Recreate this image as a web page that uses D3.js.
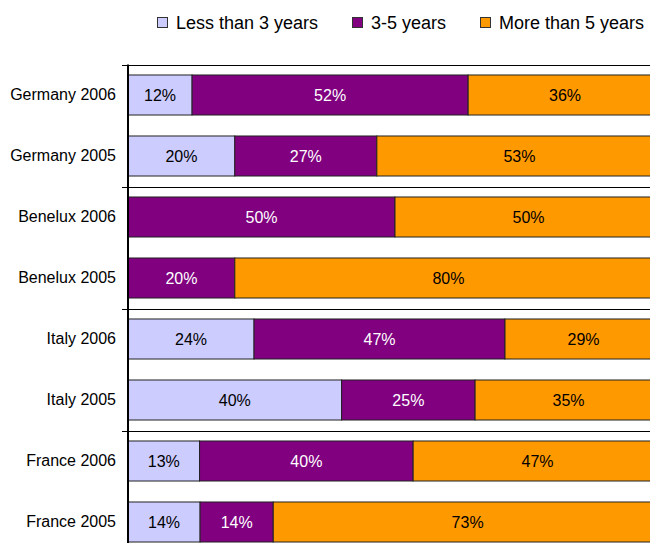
<!DOCTYPE html>
<html>
<head>
<meta charset="utf-8">
<script src="https://cdn.jsdelivr.net/npm/d3@7"></script>
<style>
  body { margin: 0; background: #fff; }
  svg { display: block; font-family: "Liberation Sans", Arial, sans-serif; }
</style>
</head>
<body>
<script>
// chart data (shares, labels are rounded)
const categories = ["Germany 2006", "Germany 2005", "Benelux 2006", "Benelux 2005",
                    "Italy 2006", "Italy 2005", "France 2006", "France 2005"]
const seriesNames = ["Less than 3 years", "3-5 years", "More than 5 years"]
const lessThan3 = [12, 20, 0, 0, 23.6, 40, 13.4, 13.5]
const from3to5 = [51.7, 26.6, 50, 20, 47, 25, 40, 13.7]
const moreThan5 = [36.3, 53.4, 50, 80, 29.4, 35, 46.6, 72.8]

const colors = ["#ccccff", "#800080", "#ff9900"]
const labelColors = ["#000", "#fff", "#000"]

const width = 650, height = 543
const axisX = 128

const svg = d3.select('body').append('svg')
    .attr('width', width)
    .attr('height', height)

// build rows for stacking
const rows = categories.map((c, i) => ({
    cat: c,
    [seriesNames[0]]: lessThan3[i],
    [seriesNames[1]]: from3to5[i],
    [seriesNames[2]]: moreThan5[i]
}))
const stacked = d3.stack().keys(seriesNames)(rows)

// scales - 100% sits past the right edge, the bars get clipped like the original
const xScale = d3.scaleLinear()
    .domain([0, 100])
    .range([axisX, 662])

const yScale = d3.scaleBand()
    .domain(categories)
    .range([64.5, 64.5 + 8 * 61])
    .paddingInner(0.344)
    .paddingOuter(0.172)

// group separators (every 2 categories)
const sepY = categories.filter((d, i) => i % 2 == 0)
    .map(d => Math.round(yScale(d) - yScale.step() * yScale.paddingOuter()) + 0.5)

svg.selectAll('.sep').data(sepY)
    .enter()
    .append('line')
    .attr('x1', axisX - 6)
    .attr('x2', width)
    .attr('y1', d => d)
    .attr('y2', d => d)
    .attr('stroke', '#000')
    .attr('stroke-width', 1)

// bars
const layers = svg.selectAll('.layer').data(stacked)
    .enter()
    .append('g')
    .attr('fill', (d, i) => colors[i])

layers.selectAll('rect')
    .data(d => d.filter(s => s[1] - s[0] > 0))
    .enter()
    .append('rect')
    .attr('x', d => xScale(d[0]))
    .attr('y', d => yScale(d.data.cat))
    .attr('width', d => xScale(d[1]) - xScale(d[0]))
    .attr('height', yScale.bandwidth())
    .attr('stroke', '#222')
    .attr('stroke-width', 1)

// value labels
stacked.forEach((layer, i) => {
    svg.selectAll('.lbl' + i)
        .data(layer.filter(s => s[1] - s[0] > 0))
        .enter()
        .append('text')
        .attr('x', d => (xScale(d[0]) + xScale(Math.min(d[1], 100))) / 2)
        .attr('y', d => yScale(d.data.cat) + yScale.bandwidth() / 2)
        .attr('dy', '0.35em')
        .attr('text-anchor', 'middle')
        .attr('font-size', 16)
        .attr('fill', labelColors[i])
        .text(d => Math.round(d[1] - d[0]) + '%')
})

// y axis
const yAxis = svg.append('g')
    .attr('transform', 'translate(' + axisX + ',0)')
    .call(d3.axisLeft(yScale).tickSize(0).tickPadding(12))
yAxis.select('.domain').remove()
yAxis.selectAll('text')
    .attr('font-size', 16)
    .attr('font-family', '"Liberation Sans", Arial, sans-serif')
    .attr('fill', '#000')

svg.append('line')
    .attr('x1', axisX)
    .attr('x2', axisX)
    .attr('y1', sepY[0] - 1)
    .attr('y2', height)
    .attr('stroke', '#000')
    .attr('stroke-width', 2)

// legend
const legendX = [157, 352, 480]
const legend = svg.selectAll('.legend').data(seriesNames)
    .enter()
    .append('g')
    .attr('transform', (d, i) => 'translate(' + legendX[i] + ',17)')

legend.append('rect')
    .attr('x', 0.5)
    .attr('y', 0.5)
    .attr('width', 10)
    .attr('height', 10)
    .attr('fill', (d, i) => colors[i])
    .attr('stroke', '#333')

legend.append('text')
    .attr('x', 19)
    .attr('y', 12)
    .attr('font-size', 18)
    .attr('fill', '#000')
    .text(d => d)
</script>
</body>
</html>
